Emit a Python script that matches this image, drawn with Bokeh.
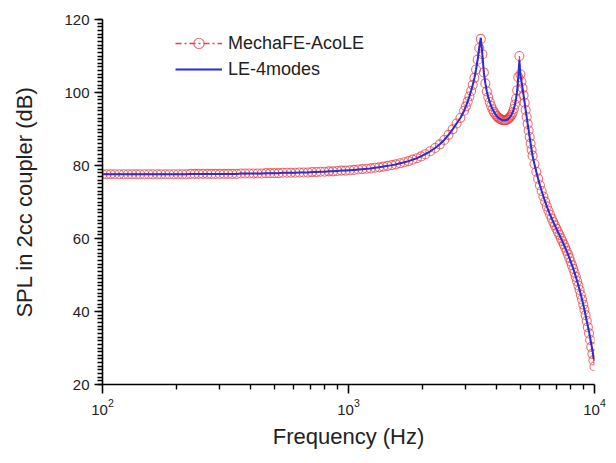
from bokeh.plotting import figure
from bokeh.models import Range1d, FixedTicker, SingleIntervalTicker, Legend, LegendItem, ColumnDataSource
from bokeh.embed import file_html
from bokeh.resources import INLINE

# Frequency (Hz)
freq_hz = [
    100, 104, 108, 112, 117, 122, 127, 132, 137, 142,
    148, 154, 160, 167, 173, 180, 187, 195, 203, 211,
    219, 228, 237, 246, 256, 267, 277, 288, 300, 312,
    324, 337, 351, 365, 380, 395, 411, 427, 444, 462,
    480, 500, 520, 540, 562, 584, 608, 632, 657, 684,
    711, 740, 769, 800, 832, 865, 900, 936, 973, 1012,
    1053, 1095, 1139, 1184, 1232, 1281, 1332, 1386, 1441, 1499,
    1559, 1621, 1686, 1753, 1823, 1896, 1972, 2050, 2150, 2250,
    2350, 2450, 2550, 2650, 2750, 2850, 2950, 3000, 3050, 3100,
    3150, 3200, 3250, 3300, 3350, 3400, 3450, 3500, 3550, 3600,
    3650, 3700, 3750, 3800, 3850, 3900, 3950, 4000, 4050, 4100,
    4150, 4200, 4250, 4300, 4350, 4400, 4450, 4500, 4550, 4600,
    4650, 4700, 4750, 4800, 4850, 4900, 4950, 5000, 5050, 5100,
    5150, 5200, 5250, 5300, 5350, 5400, 5450, 5500, 5550, 5600,
    5700, 5800, 5900, 6000, 6100, 6200, 6300, 6400, 6500, 6600,
    6700, 6800, 6900, 7000, 7100, 7200, 7300, 7400, 7500, 7600,
    7700, 7800, 7900, 8000, 8100, 8200, 8300, 8400, 8500, 8600,
    8700, 8800, 8900, 9000, 9100, 9200, 9300, 9400, 9500, 9600,
    9700, 9800, 9900, 10000,
]

# SPL (dB), MechaFE-AcoLE
spl_mechafe = [
    77.6, 77.6, 77.6, 77.6, 77.6, 77.6, 77.6, 77.6, 77.6, 77.6,
    77.6, 77.6, 77.6, 77.6, 77.6, 77.6, 77.6, 77.6, 77.6, 77.6,
    77.6, 77.7, 77.7, 77.7, 77.7, 77.7, 77.7, 77.7, 77.7, 77.7,
    77.7, 77.7, 77.7, 77.8, 77.8, 77.8, 77.8, 77.8, 77.8, 77.9,
    77.9, 77.9, 77.9, 78.0, 78.0, 78.0, 78.0, 78.1, 78.1, 78.1,
    78.2, 78.2, 78.3, 78.3, 78.4, 78.4, 78.5, 78.6, 78.6, 78.7,
    78.8, 78.9, 79.0, 79.1, 79.2, 79.4, 79.5, 79.7, 79.9, 80.1,
    80.3, 80.6, 80.9, 81.2, 81.6, 82.0, 82.5, 83.1, 83.9, 84.8,
    85.8, 87.0, 88.4, 89.9, 91.5, 93.0, 95.0, 96.2, 97.5, 98.9,
    100.4, 102.1, 104.0, 106.3, 109.0, 112.2, 114.7, 110.5, 105.5, 102.5,
    100.3, 98.7, 97.4, 96.3, 95.4, 94.7, 94.1, 93.6, 93.2, 92.9,
    92.7, 92.5, 92.4, 92.4, 92.4, 92.5, 92.7, 93.0, 93.4, 93.9,
    94.6, 95.5, 96.7, 98.3, 100.6, 104.2, 110.0, 105.0, 103.0, 101.2,
    99.2, 97.2, 95.2, 93.3, 91.4, 89.6, 87.8, 86.0, 84.3, 82.7,
    80.4, 78.3, 76.4, 74.6, 73.0, 71.5, 70.1, 68.8, 67.6, 66.5,
    65.5, 64.5, 63.6, 62.7, 61.8, 61.0, 60.1, 59.3, 58.4, 57.5,
    56.6, 55.7, 54.7, 53.7, 52.7, 51.7, 50.6, 49.5, 48.3, 47.1,
    45.9, 44.6, 43.3, 41.9, 40.5, 39.0, 37.4, 35.7, 34.0, 32.2,
    30.3, 28.4, 26.6, 25.0,
]

# SPL (dB), LE-4modes
spl_le4 = [
    77.6, 77.6, 77.6, 77.6, 77.6, 77.6, 77.6, 77.6, 77.6, 77.6,
    77.6, 77.6, 77.6, 77.6, 77.6, 77.6, 77.6, 77.6, 77.6, 77.6,
    77.6, 77.7, 77.7, 77.7, 77.7, 77.7, 77.7, 77.7, 77.7, 77.7,
    77.7, 77.7, 77.7, 77.8, 77.8, 77.8, 77.8, 77.8, 77.8, 77.9,
    77.9, 77.9, 77.9, 78.0, 78.0, 78.0, 78.0, 78.1, 78.1, 78.1,
    78.2, 78.2, 78.3, 78.3, 78.4, 78.4, 78.5, 78.6, 78.6, 78.7,
    78.8, 78.9, 79.0, 79.1, 79.2, 79.4, 79.5, 79.7, 79.9, 80.1,
    80.3, 80.6, 80.9, 81.2, 81.6, 82.0, 82.5, 83.1, 83.9, 84.8,
    85.8, 87.0, 88.4, 89.9, 91.5, 93.0, 95.0, 96.2, 97.5, 98.9,
    100.4, 102.1, 104.0, 106.3, 109.0, 112.2, 115.0, 110.5, 105.5, 102.5,
    100.3, 98.7, 97.4, 96.3, 95.4, 94.7, 94.1, 93.6, 93.2, 92.9,
    92.7, 92.5, 92.4, 92.4, 92.4, 92.5, 92.7, 93.0, 93.4, 93.9,
    94.6, 95.5, 96.7, 98.3, 100.6, 104.2, 108.8, 104.8, 103.0, 101.2,
    99.2, 97.2, 95.2, 93.3, 91.4, 89.6, 87.8, 86.0, 84.3, 82.7,
    80.4, 78.3, 76.4, 74.6, 73.0, 71.5, 70.1, 68.8, 67.6, 66.5,
    65.5, 64.5, 63.6, 62.7, 61.8, 61.0, 60.1, 59.3, 58.4, 57.5,
    56.6, 55.7, 54.7, 53.7, 52.7, 51.7, 50.6, 49.5, 48.3, 47.1,
    45.9, 44.6, 43.3, 41.9, 40.5, 39.0, 37.4, 36.0, 34.5, 32.9,
    31.2, 29.5, 27.9, 26.4,
]

series_labels = ["MechaFE-AcoLE", "LE-4modes"]
x_major_ticks = [100, 1000, 10000]

FONT = "Liberation Sans"
TXT = "#222222"
RED = "#e8403f"
BLUE = "#2b2bd9"

src = ColumnDataSource(dict(f=freq_hz, fe=spl_mechafe, le=spl_le4))

p = figure(width=608, height=459, x_axis_type="log",
           x_range=Range1d(100, 10000), y_range=Range1d(20, 120),
           output_backend="svg", toolbar_location=None,
           min_border_left=102, min_border_top=19, min_border_right=14, min_border_bottom=75)
p.outline_line_color = None
p.xgrid.visible = False
p.ygrid.visible = False

r_line = p.line("f", "fe", source=src, line_color=RED, line_width=1.3, line_dash="6 3 2 3")
r_circ = p.scatter("f", "fe", source=src, marker="circle", size=9, fill_color=None,
                   line_color=RED, line_width=1.1, line_alpha=0.75)
r_blue = p.line("f", "le", source=src, line_color=BLUE, line_width=2)

minor = [m * d for d in x_major_ticks[:-1] for m in range(2, 10)]
xa = p.xaxis[0]
xa.ticker = FixedTicker(ticks=x_major_ticks, minor_ticks=minor)
xa.axis_label = "Frequency (Hz)"
ya = p.yaxis[0]
ya.ticker = SingleIntervalTicker(interval=20, num_minor_ticks=20)
ya.axis_label = "SPL in 2cc coupler (dB)"

for ax in (xa, ya):
    ax.axis_line_color = "black"
    ax.axis_line_width = 1.6
    ax.major_tick_line_color = "black"
    ax.minor_tick_line_color = "black"
    ax.major_tick_line_width = 1.6
    ax.minor_tick_line_width = 1.4
    ax.major_tick_in = 0
    ax.minor_tick_in = 0
    ax.major_label_text_font = FONT
    ax.major_label_text_font_size = "15px"
    ax.major_label_text_color = TXT
    ax.axis_label_text_font = FONT
    ax.axis_label_text_font_size = "22px"
    ax.axis_label_text_font_style = "normal"
    ax.axis_label_text_color = TXT

xa.major_tick_out = 9
xa.minor_tick_out = 5
ya.major_tick_out = 8
ya.minor_tick_out = 5
xa.major_label_standoff = 5
ya.major_label_standoff = 5
xa.axis_label_standoff = 6
ya.axis_label_standoff = 24

legend = Legend(items=[LegendItem(label=series_labels[0], renderers=[r_line, r_circ]),
                       LegendItem(label=series_labels[1], renderers=[r_blue])],
                location=(73, 302), margin=0, padding=0, spacing=0,
                glyph_width=47, glyph_height=26, label_height=26, label_standoff=6,
                label_text_font=FONT, label_text_font_size="18px", label_text_color=TXT,
                background_fill_alpha=0, border_line_color=None)
p.add_layout(legend)

open("out.html", "w").write(file_html(p, INLINE))
